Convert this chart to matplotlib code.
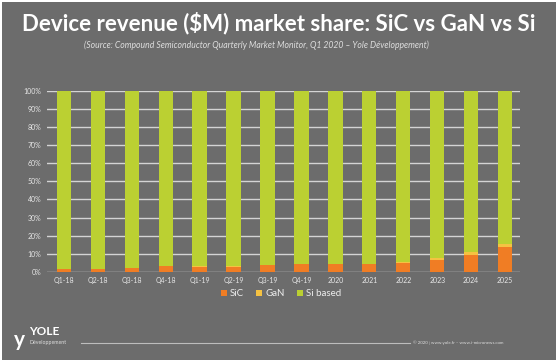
import numpy as np
import matplotlib.pyplot as plt
from matplotlib.patches import Rectangle

plt.rcParams['font.family'] = ['Lato', 'DejaVu Sans']

periods = ['Q1-18', 'Q2-18', 'Q3-18', 'Q4-18', 'Q1-19', 'Q2-19', 'Q3-19', 'Q4-19',
           '2020', '2021', '2022', '2023', '2024', '2025']
sic = [1.6, 1.6, 2.1, 3.1, 2.9, 2.9, 3.8, 4.2, 4.1, 4.2, 4.8, 6.5, 9.3, 13.5]
gan = [0.1, 0.1, 0.1, 0.1, 0.1, 0.1, 0.2, 0.2, 0.2, 0.3, 0.8, 1.1, 1.7, 2.1]
si = [100 - a - b for a, b in zip(sic, gan)]

bg = '#6c6c6c'
c_sic = '#f07d24'
c_gan = '#f5c242'
c_si = '#bbd032'

fig = plt.figure(figsize=(5.58, 3.62), dpi=100, facecolor='white')
fig.patches.append(Rectangle((0.004, 0.006), 0.992, 0.988, transform=fig.transFigure,
                             facecolor=bg, edgecolor='none', zorder=-10))

ax = fig.add_axes([0.084, 0.249, 0.848, 0.500])
ax.set_facecolor(bg)
x = np.arange(len(periods))
w = 0.42
ax.bar(x, sic, w, color=c_sic, label='SiC', zorder=3)
ax.bar(x, gan, w, bottom=sic, color=c_gan, label='GaN', zorder=3)
ax.bar(x, si, w, bottom=np.array(sic) + np.array(gan), color=c_si, label='Si based', zorder=3)

ax.set_xlim(-0.5, len(periods) - 1 + 0.44)
ax.set_ylim(0, 100)
ax.set_yticks(range(0, 101, 10))
ax.set_yticklabels([f'{v}%' for v in range(0, 101, 10)])
ax.set_xticks(x)
ax.set_xticklabels(periods)
ax.tick_params(length=0, labelsize=5, colors='#e6e6e6', pad=4)
ax.grid(axis='y', color='#d4d4d4', linewidth=1.0, zorder=1)
for s in ax.spines.values():
    s.set_visible(False)

leg = ax.legend(loc='center', bbox_to_anchor=(0.495, -0.12), ncol=3, frameon=False,
                fontsize=7, labelcolor='#eeeeee', handlelength=0.6, handleheight=0.6,
                handletextpad=0.3, columnspacing=1.3)

fig.text(0.5, 0.935, 'Device revenue ($M) market share: SiC vs GaN vs Si', ha='center', va='center',
         color='white', fontsize=16, fontweight='bold')
fig.text(0.46, 0.875, '(Source: Compound Semiconductor Quarterly Market Monitor, Q1 2020 \u2013 Yole D\u00e9veloppement)',
         ha='center', va='center', color='#dddddd', fontsize=6.2, style='italic')

# footer
fig.lines.append(plt.Line2D([0.145, 0.735], [0.052, 0.052], transform=fig.transFigure,
                            color='#bdbdbd', linewidth=0.8))
fig.text(0.74, 0.052, '\u00a9 2020 | www.yole.fr \u2013 www.i-micronews.com', ha='left', va='center',
         color='#dddddd', fontsize=3.2)
fig.text(0.052, 0.085, 'YOLE', ha='left', va='center', color='white', fontsize=8.5, fontweight='bold')
fig.text(0.052, 0.055, 'D\u00e9veloppement', ha='left', va='center', color='#dddddd', fontsize=3.8)
fig.text(0.025, 0.06, 'y', ha='left', va='center', color='white', fontsize=15, fontweight='bold')

fig.savefig('out.png', dpi=100, facecolor='white')
